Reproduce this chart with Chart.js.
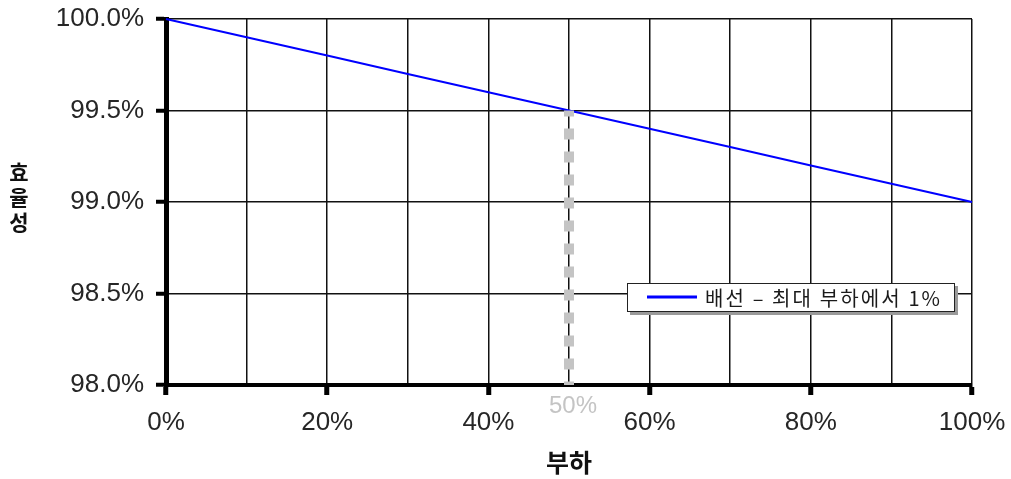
<!DOCTYPE html>
<html lang="ko">
<head>
<meta charset="utf-8">
<title>부하별 효율성</title>
<script src="https://cdn.jsdelivr.net/npm/chart.js@4.4.1/dist/chart.umd.min.js"></script>
<style>
  html, body { margin: 0; padding: 0; background: #ffffff; }
  #chart { display: block; }
</style>
</head>
<body>
<canvas id="chart" width="1011" height="479"></canvas>
<script>
// Load (%) along the x axis and wiring efficiency (%) at each load
const loads = [0, 10, 20, 30, 40, 50, 60, 70, 80, 90, 100];
const efficiency = [100.0, 99.9, 99.8, 99.7, 99.6, 99.5, 99.4, 99.3, 99.2, 99.1, 99.0];

// Vertical marker at half load
const markerLoad = [50, 50];
const markerEfficiency = [99.5, 98.0];
const markerLabel = '50%';

// Axis texts
const xTickLabels = ['0%', '20%', '40%', '60%', '80%', '100%'];
const yTickLabels = ['98.0%', '98.5%', '99.0%', '99.5%', '100.0%'];
const xTitle = '부하';
const yTitle = '효율성';
const seriesName = '배선 – 최대 부하에서 1%';

const labelledX = xTickLabels.map(t => parseFloat(t));
const yValues = yTickLabels.map(t => parseFloat(t));

const TICK_FONT = { family: "'Liberation Sans', Arial, sans-serif", size: 26 };
const KR_FONT = "'Noto Sans CJK KR', 'Noto Sans', sans-serif";

// Draws the stacked y-axis title, the half-load label and the boxed legend
const overlayPlugin = {
  id: 'overlay',
  afterDraw(chart) {
    const { ctx, chartArea, scales } = chart;
    ctx.save();

    // y title: one upright character per line
    ctx.font = `bold 21px ${KR_FONT}`;
    ctx.fillStyle = '#111';
    ctx.textAlign = 'center';
    ctx.textBaseline = 'middle';
    const chars = Array.from(yTitle);
    const pitch = 25;
    const midY = (chartArea.top + chartArea.bottom) / 2 - 5;
    chars.forEach((c, i) => {
      ctx.fillText(c, 19, midY + (i - (chars.length - 1) / 2) * pitch);
    });

    // label under the half-load marker
    ctx.font = "24px 'Liberation Sans', Arial, sans-serif";
    ctx.fillStyle = '#c4c4c4';
    ctx.textAlign = 'center';
    ctx.textBaseline = 'top';
    ctx.fillText(markerLabel, scales.x.getPixelForValue(markerLoad[0]) + 4, chartArea.bottom + 9);

    // legend box
    const ds = chart.data.datasets.find(d => d.label === seriesName);
    const bx = 627, by = 283, bw = 328, bh = 29;
    ctx.fillStyle = '#9a9a9a';
    ctx.fillRect(bx + 3, by + 3, bw, bh);
    ctx.fillStyle = '#ffffff';
    ctx.fillRect(bx, by, bw, bh);
    ctx.strokeStyle = '#222';
    ctx.lineWidth = 1;
    ctx.strokeRect(bx + 0.5, by + 0.5, bw - 1, bh - 1);
    ctx.strokeStyle = ds.borderColor;
    ctx.lineWidth = 3;
    ctx.beginPath();
    ctx.moveTo(bx + 20, by + 14);
    ctx.lineTo(bx + 70, by + 14);
    ctx.stroke();
    ctx.font = `20px ${KR_FONT}`;
    ctx.fillStyle = '#1a1a1a';
    ctx.textAlign = 'left';
    ctx.textBaseline = 'middle';
    // spread the legend text across its slot in the box
    const slot = 235;
    const n = Array.from(ds.label).length;
    const natural = ctx.measureText(ds.label).width;
    ctx.letterSpacing = Math.max(0, (slot - natural) / (n - 1)).toFixed(2) + 'px';
    ctx.fillText(ds.label, bx + 78, by + 15);

    ctx.restore();
  }
};

new Chart(document.getElementById('chart'), {
  type: 'line',
  data: {
    datasets: [
      {
        label: 'marker',
        data: markerLoad.map((x, i) => ({ x, y: markerEfficiency[i] })),
        borderColor: '#c4c4c4',
        borderWidth: 10,
        borderDash: [11, 12],
        borderDashOffset: 5,
        borderCapStyle: 'butt',
        pointRadius: 0,
        order: 0
      },
      {
        label: seriesName,
        data: loads.map((x, i) => ({ x, y: efficiency[i] })),
        borderColor: '#0000ff',
        borderWidth: 2,
        pointRadius: 0,
        tension: 0,
        order: 1
      }
    ]
  },
  options: {
    responsive: false,
    animation: false,
    devicePixelRatio: 1,
    clip: false,
    layout: { padding: { top: 19, right: 39, bottom: 0, left: 0 } },
    plugins: {
      legend: { display: false },
      tooltip: { enabled: false }
    },
    scales: {
      x: {
        type: 'linear',
        min: 0,
        max: 100,
        afterFit(scale) {
          scale.height = 94;
          scale.paddingLeft = 0;
          scale.paddingRight = 0;
        },
        ticks: {
          stepSize: 10,
          autoSkip: false,
          maxRotation: 0,
          padding: 12,
          color: '#262626',
          font: TICK_FONT,
          callback(v) {
            const i = labelledX.indexOf(v);
            return i >= 0 ? xTickLabels[i] : '';
          }
        },
        grid: {
          color: '#111',
          lineWidth: 1.5,
          tickLength: 10,
          tickWidth: 5,
          tickColor: ctx => (ctx.tick && labelledX.includes(ctx.tick.value)) ? '#000' : 'rgba(0,0,0,0)'
        },
        border: { display: true, color: '#000', width: 4 },
        title: {
          display: true,
          text: xTitle,
          color: '#111',
          font: { family: KR_FONT, size: 25, weight: 'bold' },
          padding: { top: 0, bottom: 2 }
        }
      },
      y: {
        min: 98,
        max: 100,
        afterFit(scale) {
          scale.width = 166;
          scale.paddingTop = 0;
          scale.paddingBottom = 0;
        },
        ticks: {
          stepSize: 0.5,
          padding: 12,
          color: '#262626',
          font: TICK_FONT,
          callback(v) {
            const i = yValues.findIndex(t => Math.abs(t - v) < 1e-6);
            return i >= 0 ? yTickLabels[i] : '';
          }
        },
        grid: {
          color: '#111',
          lineWidth: 1.5,
          tickLength: 10,
          tickWidth: 4,
          tickColor: '#000'
        },
        border: { display: true, color: '#000', width: 5 }
      }
    }
  },
  plugins: [overlayPlugin]
});
</script>
</body>
</html>
